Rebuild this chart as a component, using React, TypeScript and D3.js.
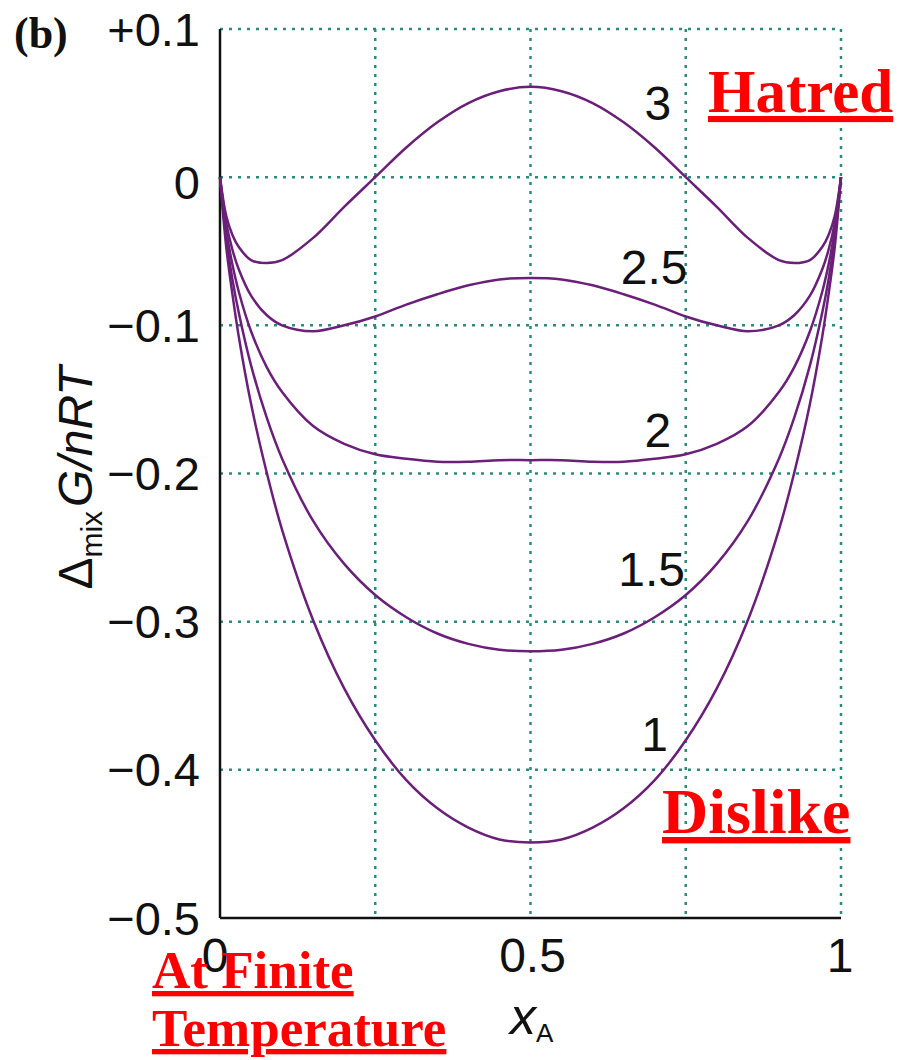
import React from "react";
import * as d3 from "d3";

const xValues = [0, 0.01, 0.02, 0.03, 0.05, 0.075, 0.1, 0.15, 0.2, 0.25, 0.3, 0.35, 0.4, 0.45, 0.5, 0.55, 0.6, 0.65, 0.7, 0.75, 0.8, 0.85, 0.9, 0.925, 0.95, 0.97, 0.98, 0.99, 1];

const curve1 = [0, -0.047, -0.079, -0.107, -0.153, -0.199, -0.238, -0.299, -0.345, -0.380, -0.407, -0.426, -0.439, -0.447, -0.449, -0.447, -0.439, -0.426, -0.407, -0.380, -0.345, -0.299, -0.238, -0.199, -0.153, -0.107, -0.079, -0.047, 0];
const curve15 = [0, -0.041, -0.069, -0.091, -0.127, -0.162, -0.190, -0.232, -0.261, -0.282, -0.297, -0.308, -0.315, -0.319, -0.320, -0.319, -0.315, -0.308, -0.297, -0.282, -0.261, -0.232, -0.190, -0.162, -0.127, -0.091, -0.069, -0.041, 0];
const curve2 = [0, -0.036, -0.059, -0.077, -0.104, -0.128, -0.145, -0.168, -0.180, -0.187, -0.190, -0.192, -0.192, -0.191, -0.191, -0.191, -0.192, -0.192, -0.190, -0.187, -0.180, -0.168, -0.145, -0.128, -0.104, -0.077, -0.059, -0.036, 0];
const curve25 = [0, -0.031, -0.049, -0.062, -0.080, -0.093, -0.100, -0.104, -0.100, -0.094, -0.086, -0.079, -0.073, -0.069, -0.068, -0.069, -0.073, -0.079, -0.086, -0.094, -0.100, -0.104, -0.100, -0.093, -0.080, -0.062, -0.049, -0.031, 0];
const curve3 = [0, -0.026, -0.039, -0.047, -0.056, -0.058, -0.056, -0.041, -0.020, 0.000, 0.020, 0.037, 0.050, 0.058, 0.061, 0.058, 0.050, 0.037, 0.020, 0.000, -0.020, -0.041, -0.056, -0.058, -0.056, -0.047, -0.039, -0.026, 0];

const seriesNames = ["1", "1.5", "2", "2.5", "3"];
const seriesValues = [curve1, curve15, curve2, curve25, curve3];
const labelPositions = [
  { x: 0.70, y: -0.376 },
  { x: 0.695, y: -0.265 },
  { x: 0.705, y: -0.171 },
  { x: 0.699, y: -0.061 },
  { x: 0.705, y: 0.050 },
];

const yTicks = [0.1, 0, -0.1, -0.2, -0.3, -0.4, -0.5];
const yTickLabels = ["+0.1", "0", "\u22120.1", "\u22120.2", "\u22120.3", "\u22120.4", "\u22120.5"];
const yGrid = [0.1, 0, -0.1, -0.2, -0.3, -0.4];
const xTicks = [0, 0.5, 1];
const xTickLabels = ["0", "0.5", "1"];
const xGrid = [0.25, 0.5, 0.75, 1];

const W = 915;
const H = 1060;
const SANS = "'Liberation Sans', Arial, Helvetica, sans-serif";
const SERIF = "'Liberation Serif', 'Times New Roman', serif";
const CURVE_COLOR = "#6a1f78";
const GRID_COLOR = "#2e8a7c";

export default function App() {
  const x = d3.scaleLinear().domain([0, 1]).range([220, 841]);
  const y = d3.scaleLinear().domain([-0.5, 0.1]).range([918, 29]);
  const line = d3
    .line<[number, number]>()
    .x((d) => x(d[0]))
    .y((d) => y(d[1]))
    .curve(d3.curveCatmullRom.alpha(0.5));

  return (
    <svg
      width={W}
      height={H}
      viewBox={`0 0 ${W} ${H}`}
      style={{ position: "absolute", left: 0, top: 0, background: "#fff" }}
    >
      <rect x={0} y={0} width={W} height={H} fill="#fff" />
      {yGrid.map((v) => (
        <line
          key={"gy" + v}
          x1={x(0)}
          x2={x(1)}
          y1={y(v)}
          y2={y(v)}
          stroke={GRID_COLOR}
          strokeWidth={2.5}
          strokeDasharray="3 6"
        />
      ))}
      {xGrid.map((v) => (
        <line
          key={"gx" + v}
          x1={x(v)}
          x2={x(v)}
          y1={y(0.1)}
          y2={y(-0.5)}
          stroke={GRID_COLOR}
          strokeWidth={2.5}
          strokeDasharray="3 6"
        />
      ))}
      <line x1={x(0)} x2={x(0)} y1={y(0.1)} y2={y(-0.5)} stroke="#111" strokeWidth={2.5} />
      <line x1={x(0)} x2={x(1)} y1={y(-0.5)} y2={y(-0.5)} stroke="#111" strokeWidth={2.5} />

      {seriesValues.map((vals, i) => (
        <path
          key={seriesNames[i]}
          d={line(xValues.map((xv, j) => [xv, vals[j]] as [number, number])) || ""}
          fill="none"
          stroke={CURVE_COLOR}
          strokeWidth={2.5}
        />
      ))}
      {seriesNames.map((n, i) => (
        <text
          key={"lab" + n}
          x={x(labelPositions[i].x)}
          y={y(labelPositions[i].y)}
          textAnchor="middle"
          dominantBaseline="central"
          fontFamily={SANS}
          fontSize={48}
          fill="#111"
        >
          {n}
        </text>
      ))}

      {yTicks.map((v, i) => (
        <text
          key={"yt" + v}
          x={200}
          y={y(v) + (v === 0 ? 5 : 0)}
          textAnchor="end"
          dominantBaseline="central"
          fontFamily={SANS}
          fontSize={47}
          fill="#111"
        >
          {yTickLabels[i]}
        </text>
      ))}
      {xTicks.map((v, i) => (
        <text
          key={"xt" + v}
          x={x(v) + (v === 0 ? -5 : v === 1 ? -1 : 2)}
          y={955}
          textAnchor="middle"
          dominantBaseline="central"
          fontFamily={SANS}
          fontSize={48}
          fill="#111"
        >
          {xTickLabels[i]}
        </text>
      ))}

      <text
        transform="translate(92,478) rotate(-90)"
        textAnchor="middle"
        fontFamily={SANS}
        fontSize={48}
        fill="#111"
      >
        <tspan>Δ</tspan>
        <tspan fontSize={30} dy={10}>mix</tspan>
        <tspan dy={-10} dx={4} fontStyle="italic">G/nRT</tspan>
      </text>
      <text x={510} y={1034} fontFamily={SANS} fontSize={52} fontStyle="italic" fill="#111">
        x
        <tspan fontSize={26} fontStyle="normal" dy={8}>A</tspan>
      </text>

      <text x={14} y={48} fontFamily={SERIF} fontWeight="bold" fontSize={44} fill="#111">
        (b)
      </text>

      <text x={708} y={112} fontFamily={SERIF} fontWeight="bold" fontSize={61} fill="#ff0000" textDecoration="underline">
        Hatred
      </text>
      <text x={662} y={833} fontFamily={SERIF} fontWeight="bold" fontSize={64} fill="#ff0000" textDecoration="underline">
        Dislike
      </text>
      <text x={152} y={988} fontFamily={SERIF} fontWeight="bold" fontSize={53} fill="#ff0000" textDecoration="underline">
        At Finite
      </text>
      <text x={152} y={1046} fontFamily={SERIF} fontWeight="bold" fontSize={53} fill="#ff0000" textDecoration="underline">
        Temperature
      </text>
    </svg>
  );
}
